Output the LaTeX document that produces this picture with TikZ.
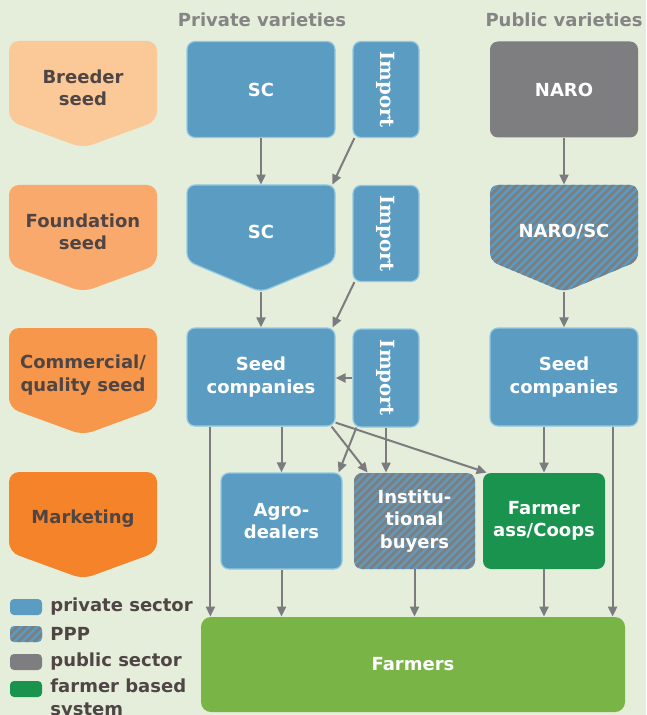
\documentclass[tikz,border=0pt]{standalone}
\usepackage{fontspec}
\setmainfont{DejaVu Sans}
\newfontfamily\slabfont{DejaVu Serif}
\usetikzlibrary{arrows.meta, calc}

\definecolor{bgcol}{HTML}{E5EDDB}
\definecolor{privblue}{HTML}{5B9CC2}
\definecolor{privedge}{HTML}{93C9E0}
\definecolor{pubgray}{HTML}{7E7E80}
\definecolor{coopgreen}{HTML}{19934E}
\definecolor{farmgreen}{HTML}{79B446}
\definecolor{linegray}{HTML}{7C7C80}
\definecolor{stagetext}{HTML}{4F4545}
\definecolor{headgray}{HTML}{858585}
\definecolor{breedcol}{HTML}{FBC898}
\definecolor{foundcol}{HTML}{F9A96C}
\definecolor{commcol}{HTML}{F7974B}
\definecolor{marketcol}{HTML}{F4832A}

\tikzstyle{txt} = [font=\fontsize{9}{11.25}\selectfont\bfseries, align=center, inner sep=0pt]
\tikzstyle{box} = [txt, rectangle, rounded corners=4pt, text=white]
\tikzstyle{privfill} = [fill=privblue, draw=privedge, line width=0.6pt]
\tikzstyle{pppfill} = [fill=privblue, path picture={
    \foreach \k in {-22,...,26}
      \draw[pubgray, line width=1.5pt]
        ([xshift=\k*4pt]path picture bounding box.south west) -- ++(80pt,80pt);}]
\tikzstyle{private} = [box, privfill]
\tikzstyle{public} = [box, fill=pubgray]
\tikzstyle{ppp} = [box, pppfill]
\tikzstyle{coop} = [box, fill=coopgreen]
\tikzstyle{farm} = [box, fill=farmgreen, rounded corners=5pt]
\tikzstyle{wide} = [minimum width=74pt, minimum height=48pt]
\tikzstyle{narrow} = [minimum width=33pt, minimum height=48pt]
\tikzstyle{market} = [minimum width=60.5pt, minimum height=48pt]
\tikzstyle{stagelbl} = [txt, text=stagetext]
\tikzstyle{head} = [txt, text=headgray]
\tikzstyle{legendtxt} = [txt, text=stagetext, align=left, anchor=west]
\tikzstyle{swatch} = [rectangle, rounded corners=2pt, minimum width=16pt, minimum height=8pt, inner sep=0pt]
\tikzstyle{flow} = [draw=linegray, line width=1pt, -{Triangle[length=5pt,width=4.5pt]}]

% stage arrow on the left: name, colour, top, text
\newcommand{\stagearrow}[4]{%
  \fill[#2, rounded corners=5pt] (9,#3) -- (157,#3) -- (157,#3+80) -- (83,#3+107) -- (9,#3+80) -- cycle;
  \node (#1) [stagelbl, minimum width=74pt, minimum height=47pt] at (83,#3+47) {#4};
}
% pointed box: name, fill style, left, top, text
\newcommand{\pointbox}[5]{%
  \path[#2, rounded corners=4pt] (#3,#4) -- ++(148,0) -- ++(0,76) -- ++(-74,31) -- ++(-74,-31) -- cycle;
  \node (#1) [box, minimum width=74pt, minimum height=47pt] at (#3+74,#4+47) {#5};
  \coordinate (#1-tip) at (#3+74,#4+107);
}
\newcommand{\imp}{\rotatebox{-90}{\fontsize{9.8}{12}\selectfont\slabfont\bfseries Import}}

\begin{document}
\begin{tikzpicture}[x=0.5pt, y=-0.5pt]
\fill[bgcol] (0,0) rectangle (646,715);
\useasboundingbox (0,0) rectangle (646,715);

% column heads
\node (privhead) [head] at (262,20) {Private varieties};
\node (pubhead) [head] at (564,20) {Public varieties};

% stages
\stagearrow{breeder}{breedcol}{41}{Breeder\\seed}
\stagearrow{foundation}{foundcol}{185}{Foundation\\seed}
\stagearrow{commercial}{commcol}{328}{Commercial/\\quality seed}
\stagearrow{marketing}{marketcol}{472}{Marketing}

% breeder seed
\node (sc1) [private, wide] at (261,89.5) {SC};
\node (import1) [private, narrow] at (386,89.5) {\imp};
\node (naro) [public, wide] at (564,89.5) {NARO};

% foundation seed
\pointbox{sc2}{privfill}{187}{185}{SC}
\node (import2) [private, narrow] at (386,233.5) {\imp};
\pointbox{narosc}{pppfill}{490}{185}{NARO/SC}

% commercial seed
\node (seedpriv) [private, wide, minimum height=49pt] at (261,377) {Seed\\companies};
\node (import3) [private, narrow, minimum height=49pt] at (386,378) {\imp};
\node (seedpub) [private, wide, minimum height=49pt] at (564,377) {Seed\\companies};

% marketing
\node (agro) [private, market] at (281.5,521) {Agro-\\dealers};
\node (inst) [ppp, market] at (414.5,521) {Institu-\\tional\\buyers};
\node (coops) [coop, market, minimum width=61pt] at (544,521) {Farmer\\ass/Coops};

\node (farmers) [farm, minimum width=212pt, minimum height=47.5pt] at (413,664.5) {Farmers};

% legend
\node (lgpriv) [swatch, fill=privblue] at (26,607) {};
\node (lgppp) [swatch, pppfill] at (26,634) {};
\node (lgpub) [swatch, fill=pubgray] at (26,662) {};
\node (lgfarm) [swatch, fill=coopgreen] at (26,689) {};
\node [legendtxt] at (50,607) {private sector};
\node [legendtxt] at (50,634) {PPP};
\node [legendtxt] at (50,662) {public sector};
\node [legendtxt] at (50,699) {farmer based\\system};

% flows
\draw[flow] (sc1) -- (sc2);
\draw[flow] ([xshift=1pt]import1.south west) -- ([xshift=-1.5pt]sc2.north east);
\draw[flow] (sc2-tip) -- (seedpriv);
\draw[flow] ([xshift=1pt]import2.south west) -- ([xshift=-1.5pt]seedpriv.north east);
\draw[flow] (import3.west) -- (import3.west -| seedpriv.east);
\draw[flow] (naro) -- (narosc);
\draw[flow] (narosc-tip) -- (seedpub);

\draw[flow] (seedpriv.south -| agro.north) -- (agro.north);
\draw[flow] ([xshift=-2pt]seedpriv.south east) -- ([xshift=7pt]inst.north west);
\draw[flow] ([yshift=2pt]seedpriv.south east) -- ([xshift=2pt]coops.north west);
\draw[flow] ([xshift=2pt]import3.south west) -- ([xshift=-2pt]agro.north east);
\draw[flow] (import3.south) -- (import3.south |- inst.north);
\draw[flow] (seedpub.south -| coops.north) -- (coops.north);

\coordinate (privout) at ([xshift=12pt]seedpriv.south west);
\coordinate (pubout) at ([xshift=-13pt]seedpub.south east);
\draw[flow] (privout) -- (privout |- farmers.north);
\draw[flow] (agro.south) -- (agro.south |- farmers.north);
\draw[flow] (inst.south) -- (inst.south |- farmers.north);
\draw[flow] (coops.south) -- (coops.south |- farmers.north);
\draw[flow] (pubout) -- (pubout |- farmers.north);
\end{tikzpicture}
\end{document}
